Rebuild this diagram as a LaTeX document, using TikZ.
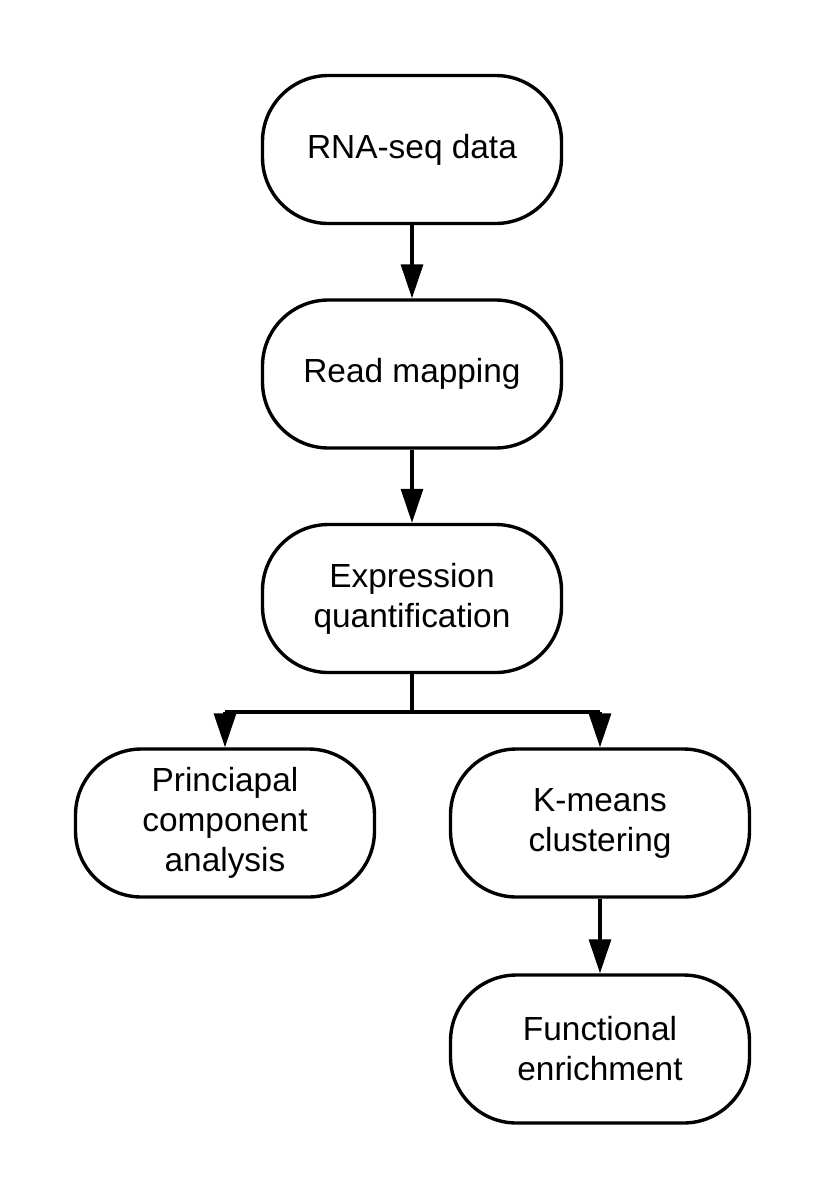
\documentclass[tikz,border=0pt]{standalone}
\usepackage{fontspec}
\setmainfont{Liberation Sans}
\usetikzlibrary{arrows.meta}
\begin{document}
\begin{tikzpicture}[x=1pt,y=-1pt,
  stepbox/.style={draw=black, line width=3.4pt, fill=white, rounded corners=66pt,
    minimum width=299pt, minimum height=148pt, inner sep=0pt, align=center,
    font=\fontsize{33.4}{40}\selectfont},
  conn/.style={line width=3.2pt, -{Triangle[length=34pt,width=22pt]}},
  branch/.style={line width=4.2pt}]
\useasboundingbox (0,0) rectangle (825,1200);
\node[stepbox] (rna) at (412,149.5) {RNA-seq data};
\node[stepbox] (map) at (412,374) {Read mapping};
\node[stepbox] (quant) at (412,598.5) {Expression\\quantification};
\node[stepbox] (pca) at (225,823) {Princiapal\\component\\analysis};
\node[stepbox] (km) at (600,823) {K-means\\clustering};
\node[stepbox] (fe) at (600,1049) {Functional\\enrichment};
\coordinate (bc) at (412,712);
\coordinate (bl) at (225,712);
\coordinate (br) at (600,712);
\draw[conn] (rna) -- (map);
\draw[conn] (map) -- (quant);
\draw[line width=3.2pt] (quant.south) -- (bc);
\draw[branch, line cap=square] (bl) -- (br);
\draw[conn] (bl) -- (pca.north);
\draw[conn] (br) -- (km.north);
\draw[conn] (km) -- (fe);
\end{tikzpicture}
\end{document}
